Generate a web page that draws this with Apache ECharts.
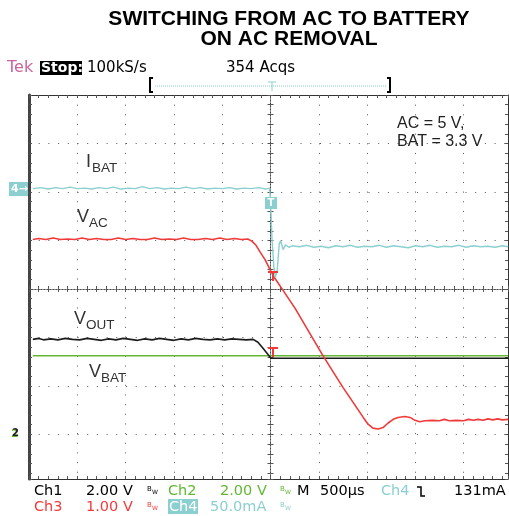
<!DOCTYPE html>
<html>
<head>
<meta charset="utf-8">
<script src="https://cdn.jsdelivr.net/npm/echarts@6/dist/echarts.min.js"></script>
<style>
  html, body { margin: 0; padding: 0; background: #fff; }
  #chart { width: 509px; height: 516px; }
</style>
</head>
<body>
<div id="chart"></div>
<script>
// scope traces, x in divisions from trigger (500us/div), y in divisions from centre
const ibatTrace = [
  [-4.92, 2.07], [-4.75, 2.09], [-4.6, 2.06], [-4.45, 2.09], [-4.3, 2.07], [-4.15, 2.1], [-4.0, 2.07],
  [-3.85, 2.08], [-3.7, 2.06], [-3.55, 2.09], [-3.4, 2.07], [-3.25, 2.1], [-3.1, 2.06], [-2.95, 2.08],
  [-2.8, 2.07], [-2.65, 2.11], [-2.5, 2.07], [-2.35, 2.09], [-2.2, 2.06], [-2.05, 2.08], [-1.9, 2.07],
  [-1.75, 2.1], [-1.6, 2.07], [-1.45, 2.09], [-1.3, 2.06], [-1.15, 2.08], [-1.0, 2.07], [-0.85, 2.09],
  [-0.7, 2.06], [-0.55, 2.08], [-0.4, 2.07], [-0.25, 2.09], [-0.1, 2.06], [-0.02, 2.08],
  [0.0, 1.85], [0.03, 1.05], [0.07, 0.45], [0.1, 0.24], [0.14, 0.4], [0.18, 0.92], [0.21, 1.0],
  [0.26, 0.81], [0.31, 0.91], [0.38, 0.86], [0.45, 0.89],
  [0.6, 0.87], [0.75, 0.9], [0.9, 0.86], [1.05, 0.88], [1.2, 0.85], [1.35, 0.89], [1.5, 0.87],
  [1.65, 0.9], [1.8, 0.86], [1.95, 0.88], [2.1, 0.87], [2.25, 0.9], [2.4, 0.86], [2.55, 0.89],
  [2.7, 0.87], [2.85, 0.85], [3.0, 0.89], [3.15, 0.87], [3.3, 0.9], [3.45, 0.86], [3.6, 0.88],
  [3.75, 0.87], [3.9, 0.9], [4.05, 0.86], [4.2, 0.89], [4.35, 0.87], [4.5, 0.88], [4.65, 0.86],
  [4.8, 0.89], [4.92, 0.87]
];
const vacTrace = [
  [-4.92, 1.02], [-4.8, 1.04], [-4.65, 1.02], [-4.5, 1.05], [-4.35, 1.02], [-4.2, 1.03], [-4.05, 1.02],
  [-3.9, 1.05], [-3.75, 1.02], [-3.6, 1.04], [-3.45, 1.02], [-3.3, 1.02], [-3.15, 1.05], [-3.0, 1.02],
  [-2.85, 1.04], [-2.7, 1.02], [-2.55, 1.02], [-2.4, 1.05], [-2.25, 1.02], [-2.1, 1.03], [-1.95, 1.02],
  [-1.8, 1.05], [-1.65, 1.02], [-1.5, 1.02], [-1.35, 1.04], [-1.2, 1.02], [-1.05, 1.05], [-0.9, 1.02],
  [-0.75, 1.04], [-0.6, 1.02], [-0.47, 1.03],
  [-0.38, 0.98], [-0.3, 0.9], [-0.22, 0.77], [-0.11, 0.6], [-0.01, 0.4], [0.09, 0.22], [0.26, -0.03],
  [0.51, -0.4], [0.75, -0.81], [1.07, -1.35], [1.29, -1.7], [1.5, -2.03], [1.71, -2.34], [1.92, -2.65],
  [2.02, -2.79], [2.12, -2.87], [2.23, -2.89], [2.33, -2.86], [2.43, -2.77], [2.54, -2.69], [2.64, -2.65],
  [2.78, -2.63], [2.89, -2.65], [2.99, -2.71], [3.09, -2.74],
  [3.2, -2.72], [3.35, -2.71], [3.5, -2.72], [3.6, -2.69], [3.7, -2.72], [3.85, -2.71], [4.0, -2.72],
  [4.1, -2.69], [4.2, -2.71], [4.3, -2.69], [4.4, -2.71], [4.5, -2.68], [4.6, -2.7], [4.7, -2.68],
  [4.8, -2.7], [4.92, -2.69]
];
const voutTrace = [
  [-4.92, -1.04], [-4.8, -1.02], [-4.7, -1.05], [-4.55, -1.03], [-4.4, -1.05], [-4.25, -1.02], [-4.1, -1.04],
  [-3.95, -1.05], [-3.8, -1.02], [-3.65, -1.04], [-3.5, -1.06], [-3.35, -1.03], [-3.2, -1.05], [-3.05, -1.02],
  [-2.9, -1.04], [-2.75, -1.06], [-2.6, -1.03], [-2.45, -1.05], [-2.3, -1.02], [-2.15, -1.04], [-2.0, -1.06],
  [-1.85, -1.03], [-1.7, -1.05], [-1.55, -1.02], [-1.4, -1.04], [-1.25, -1.05], [-1.1, -1.03], [-0.95, -1.05],
  [-0.8, -1.03], [-0.65, -1.04], [-0.5, -1.05], [-0.36, -1.04],
  [-0.26, -1.1], [-0.16, -1.22], [-0.06, -1.34], [0.01, -1.43],
  [0.4, -1.43], [0.64, -1.43], [0.67, -1.47], [0.7, -1.43], [1.66, -1.43], [1.69, -1.47], [1.72, -1.43],
  [1.78, -1.43], [1.81, -1.47], [1.84, -1.43], [2.96, -1.43], [2.99, -1.47], [3.02, -1.43], [3.07, -1.43],
  [3.1, -1.47], [3.13, -1.43], [3.52, -1.43], [3.55, -1.47], [3.58, -1.43], [3.85, -1.43], [3.88, -1.47],
  [3.91, -1.43], [4.14, -1.43], [4.17, -1.47], [4.2, -1.43], [4.92, -1.43]
];
const vbatTrace = [
  [-4.92, -1.38], [-4.33, -1.38], [-4.3, -1.34], [-4.27, -1.38], [-3.77, -1.38], [-3.74, -1.34], [-3.71, -1.38],
  [-3.1, -1.38], [-3.07, -1.34], [-3.04, -1.38], [-2.88, -1.38], [-2.85, -1.41], [-2.82, -1.38], [-2.28, -1.38],
  [-2.25, -1.34], [-2.22, -1.38], [-0.14, -1.38], [-0.11, -1.35], [-0.08, -1.38], [1.47, -1.38], [1.5, -1.35],
  [1.53, -1.38], [4.78, -1.38], [4.81, -1.35], [4.84, -1.38], [4.92, -1.38]
];

const traceColors = { ibat: '#8ccfd0', vac: '#f03a3a', vout: '#1c1c1c', vbat: '#62b832' };
const tekFont = '"DejaVu Sans"';
const labelFont = '"Liberation Sans"';

const chart = echarts.init(document.getElementById('chart'));

const gridColor = '#555';
function xAx(extra) {
  return Object.assign({
    type: 'value', min: -5, max: 4.917, interval: 1,
    axisLabel: { show: false },
    axisTick: { show: true, inside: true, length: 3, lineStyle: { color: gridColor } },
    minorTick: { show: true, splitNumber: 5, length: 3, lineStyle: { color: gridColor } },
    splitLine: { show: false }
  }, extra);
}
function yAx(extra) {
  return Object.assign({
    type: 'value', min: -3.92, max: 4, splitNumber: 8,
    axisLabel: { show: false },
    axisTick: { show: true, inside: true, length: 3, lineStyle: { color: gridColor } },
    minorTick: { show: true, splitNumber: 5, length: 3, lineStyle: { color: gridColor } },
    splitLine: { show: false }
  }, extra);
}

function txt(x, y, text, fill, font, align) {
  return {
    type: 'text', z: 20,
    style: { x: x, y: y, text: text, fill: fill, font: font, textAlign: align || 'left', textVerticalAlign: 'middle' }
  };
}
function bw(x, y, color) {
  return [
    txt(x, y - 2, 'B', color, '7px ' + tekFont),
    txt(x + 5, y + 1, 'W', color, '6px ' + tekFont)
  ];
}
function sub(x, y, main, small, fill, dx) {
  return [
    txt(x, y, main, fill, '18px ' + labelFont),
    txt(x + (dx || 12), y + 6, small, fill, '13.5px ' + labelFont)
  ];
}

const graphics = [
  txt(289, 19, 'SWITCHING FROM AC TO BATTERY', '#000', 'bold 21px ' + labelFont, 'center'),
  txt(289, 39, 'ON AC REMOVAL', '#000', 'bold 21px ' + labelFont, 'center'),
  // header readout
  txt(7, 68, 'Tek', '#c8649f', '16px ' + tekFont),
  { type: 'rect', z: 19, shape: { x: 40, y: 61, width: 42, height: 14 }, style: { fill: '#000' } },
  txt(41, 68, 'Stop:', '#fff', 'bold 14px ' + tekFont),
  txt(87, 68, '100kS/s', '#000', '15px ' + tekFont),
  txt(226, 68, '354 Acqs', '#000', '15px ' + tekFont),
  { type: 'polyline', z: 20, shape: { points: [[153, 78], [150, 78], [150, 92], [153, 92]] }, style: { stroke: '#000', lineWidth: 2, fill: null } },
  { type: 'polyline', z: 20, shape: { points: [[387, 78], [390, 78], [390, 92], [387, 92]] }, style: { stroke: '#000', lineWidth: 2, fill: null } },
  { type: 'line', z: 20, shape: { x1: 155, y1: 86, x2: 386, y2: 86 }, style: { stroke: traceColors.ibat, lineWidth: 1, lineDash: [1, 1] } },
  { type: 'line', z: 20, shape: { x1: 268, y1: 82, x2: 276, y2: 82 }, style: { stroke: traceColors.ibat, lineWidth: 1 } },
  { type: 'line', z: 20, shape: { x1: 272, y1: 82, x2: 272, y2: 91 }, style: { stroke: traceColors.ibat, lineWidth: 1 } },
  // trace labels
  ...sub(86, 162, 'I', 'BAT', '#333', 6),
  ...sub(77, 217, 'V', 'AC', '#333'),
  ...sub(74, 319, 'V', 'OUT', '#333'),
  ...sub(89, 372, 'V', 'BAT', '#333'),
  txt(397, 124, 'AC = 5 V,', '#222', '16px ' + labelFont),
  txt(397, 142, 'BAT = 3.3 V', '#222', '16px ' + labelFont),
  // channel markers
  { type: 'rect', z: 19, shape: { x: 9, y: 182, width: 19, height: 14 }, style: { fill: traceColors.ibat } },
  txt(11, 189, '4\u2192', '#fff', 'bold 11px ' + tekFont),
  txt(11, 434, '2', traceColors.vbat, 'bold 11px ' + tekFont),
  txt(12, 433, '2', '#222', 'bold 10px ' + tekFont),
  { type: 'rect', z: 19, shape: { x: 265, y: 197, width: 12, height: 12 }, style: { fill: traceColors.ibat } },
  txt(271, 203, 'T', '#fff', 'bold 10px ' + tekFont, 'center'),
  { type: 'polyline', z: 21, shape: { points: [[268, 272], [278, 272]] }, style: { stroke: traceColors.vac, lineWidth: 2 } },
  { type: 'polyline', z: 21, shape: { points: [[273, 272], [273, 281]] }, style: { stroke: traceColors.vac, lineWidth: 2 } },
  { type: 'polyline', z: 21, shape: { points: [[268, 348], [278, 348]] }, style: { stroke: traceColors.vac, lineWidth: 2 } },
  { type: 'polyline', z: 21, shape: { points: [[273, 348], [273, 357]] }, style: { stroke: traceColors.vac, lineWidth: 2 } },
  // bottom readout
  txt(34, 491, 'Ch1', '#000', '14.5px ' + tekFont),
  txt(86, 491, '2.00 V', '#000', '14.5px ' + tekFont),
  ...bw(147, 491, '#000'),
  txt(168, 491, 'Ch2', traceColors.vbat, '14.5px ' + tekFont),
  txt(220, 491, '2.00 V', traceColors.vbat, '14.5px ' + tekFont),
  ...bw(280, 491, traceColors.vbat),
  txt(297, 491, 'M', '#000', '14.5px ' + tekFont),
  txt(320, 491, '500\u00b5s', '#000', '14.5px ' + tekFont),
  txt(381, 491, 'Ch4', traceColors.ibat, '14.5px ' + tekFont),
  { type: 'polyline', z: 20, shape: { points: [[417, 487], [421, 487], [421, 496], [425, 496]] }, style: { stroke: '#000', lineWidth: 1.5, fill: null } },
  txt(454, 491, '131mA', '#000', '14.5px ' + tekFont),
  txt(34, 507, 'Ch3', traceColors.vac, '14.5px ' + tekFont),
  txt(86, 507, '1.00 V', traceColors.vac, '14.5px ' + tekFont),
  ...bw(147, 507, traceColors.vac),
  { type: 'rect', z: 19, shape: { x: 168, y: 499, width: 30, height: 15 }, style: { fill: traceColors.ibat } },
  txt(169, 507, 'Ch4', '#fff', '14.5px ' + tekFont),
  txt(210, 507, '50.0mA', traceColors.ibat, '14.5px ' + tekFont),
  ...bw(280, 507, traceColors.ibat)
];

function trace(data, color, width, z) {
  return {
    type: 'line', data: data, showSymbol: false, silent: true, z: z,
    xAxisIndex: 0, yAxisIndex: 0,
    lineStyle: { color: color, width: width }
  };
}

chart.setOption({
  animation: false,
  backgroundColor: '#fff',
  grid: { left: 29, top: 95, width: 479, height: 384, containLabel: false },
  xAxis: [
    xAx({ position: 'bottom', axisLine: { show: true, onZero: false, lineStyle: { color: '#333', width: 1 } },
      splitLine: { show: true, lineStyle: { color: gridColor, width: 1, type: [1, 8.66] } } }),
    xAx({ position: 'top', axisLine: { show: true, onZero: false, lineStyle: { color: '#333', width: 1 } } }),
    xAx({ position: 'bottom', axisLine: { show: true, onZero: true, onZeroAxisIndex: 0, lineStyle: { color: '#444', width: 1, type: [1, 2] } } }),
    xAx({ position: 'bottom', axisLine: { show: true, onZero: true, onZeroAxisIndex: 0, lineStyle: { color: '#444', width: 1, type: [1, 2] } },
      axisTick: { show: true, inside: false, length: 3, lineStyle: { color: gridColor } } })
  ],
  yAxis: [
    yAx({ position: 'left', axisLine: { show: true, onZero: false, lineStyle: { color: '#444', width: 3 } },
      splitLine: { show: true, lineStyle: { color: gridColor, width: 1, type: [1, 8.7] } } }),
    yAx({ position: 'right', axisLine: { show: true, onZero: false, lineStyle: { color: '#333', width: 1 } } }),
    yAx({ position: 'left', axisLine: { show: true, onZero: true, onZeroAxisIndex: 0, lineStyle: { color: '#444', width: 1, type: [1, 2] } } }),
    yAx({ position: 'left', axisLine: { show: true, onZero: true, onZeroAxisIndex: 0, lineStyle: { color: '#444', width: 1, type: [1, 2] } },
      axisTick: { show: true, inside: false, length: 3, lineStyle: { color: gridColor } } })
  ],
  series: [
    trace(vbatTrace, traceColors.vbat, 1.5, 2),
    trace(voutTrace, traceColors.vout, 1.6, 3),
    trace(vacTrace, traceColors.vac, 1.6, 4),
    trace(ibatTrace, traceColors.ibat, 1.4, 5)
  ],
  graphic: graphics
});
</script>
</body>
</html>
